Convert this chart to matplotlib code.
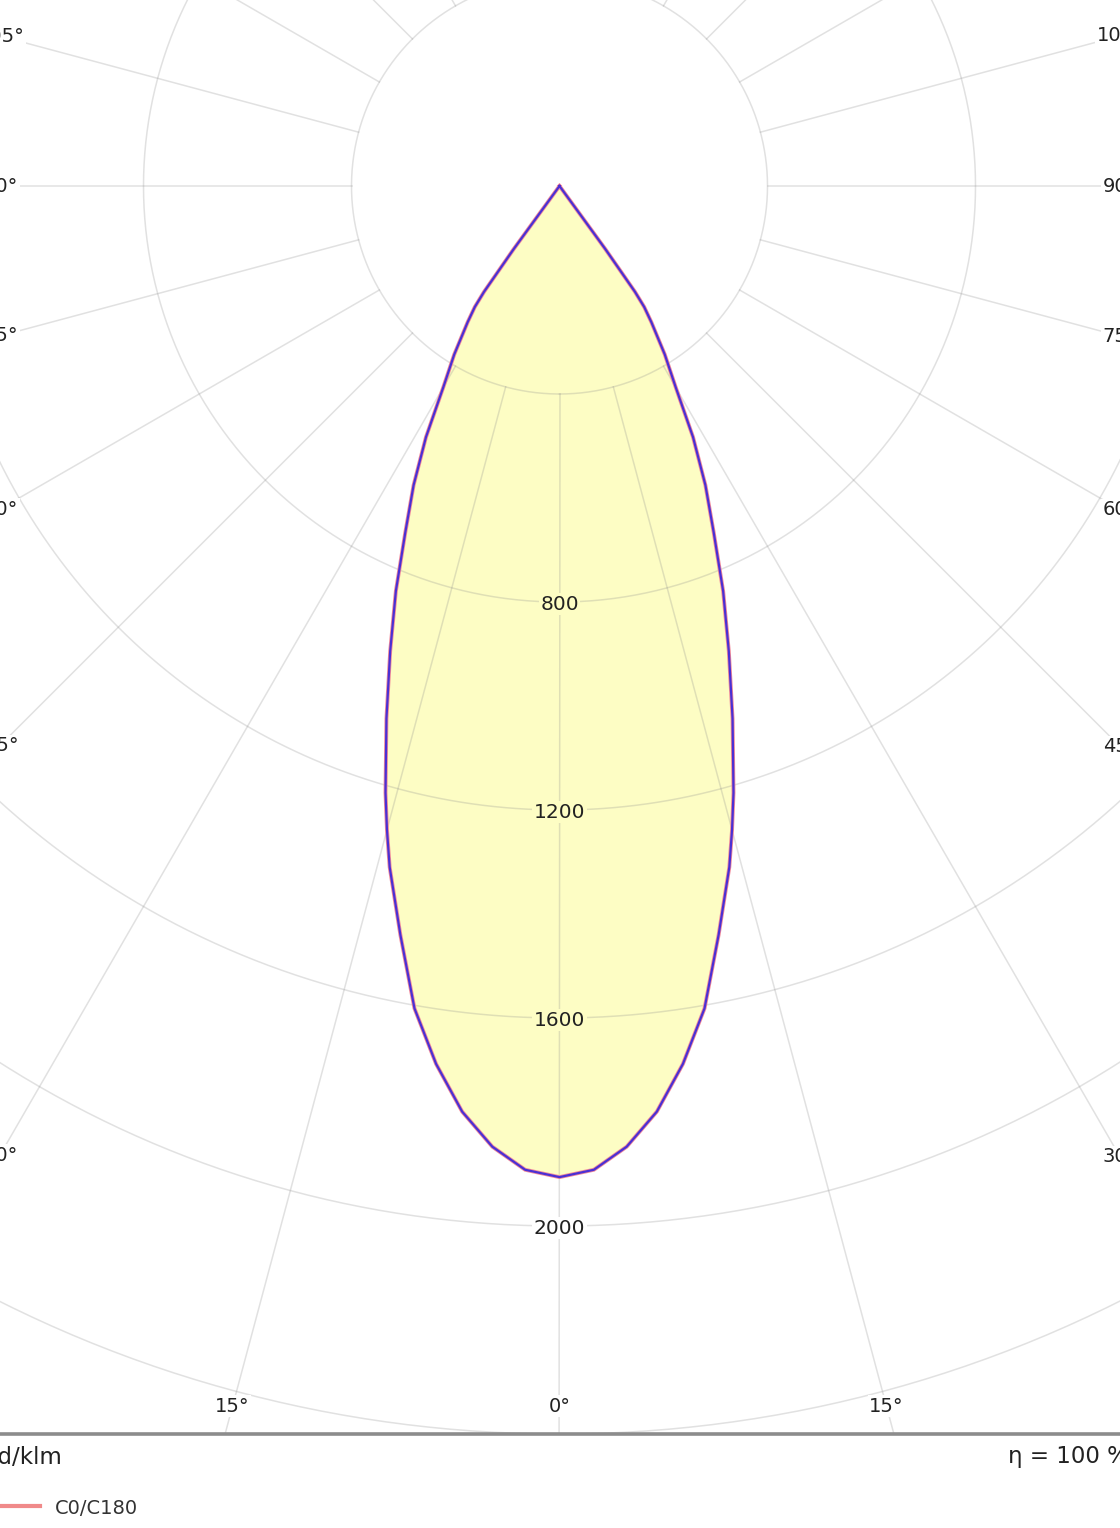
import numpy as np
import matplotlib
matplotlib.use("Agg")
import matplotlib.pyplot as plt
from matplotlib.patches import Rectangle
from matplotlib.lines import Line2D

# luminous intensity (cd/klm), symmetric curve, gamma measured from nadir
gamma_deg = [0, 2, 4, 6, 8, 10, 12, 14, 15, 16, 18, 20, 22, 24, 26, 28, 30, 32, 34, 35, 35.5, 36, 36.5]
intensity = [1906, 1893, 1852, 1790, 1705, 1606, 1472, 1350, 1282, 1214, 1077, 952, 840, 729, 640,
             547, 447, 382, 316, 284, 250, 150, 0]

ring_values = [400, 800, 1200, 1600, 2000, 2400]
ring_labels = ["800", "1200", "1600", "2000"]
side_angles = [30, 45, 60, 75, 90, 105]
bottom_angles = [-15, 0, 15]
legend_label = "C0/C180"
unit_label = "cd/klm"
eff_label = "η = 100 %"

W, H = 1120, 1528
cx, cy = 559.5, 186.0       # pole position in pixels (from top-left)
px_per_cd = 0.52
rmax = 2700
frame_y = 1434

fig = plt.figure(figsize=(W / 100, H / 100), dpi=100)
rad_px = rmax * px_per_cd
ax = fig.add_axes([(cx - rad_px) / W, (H - cy - rad_px) / H, 2 * rad_px / W, 2 * rad_px / H],
                  projection="polar")
ax.set_theta_zero_location("S")
ax.set_ylim(0, rmax)
ax.grid(False)
ax.set_xticks([])
ax.set_yticks([])
ax.spines["polar"].set_visible(False)
ax.patch.set_alpha(0)

# curve
g = np.array(gamma_deg)
i = np.array(intensity)
theta = np.radians(np.concatenate([-g[::-1], g[1:]]))
r = np.concatenate([i[::-1], i[1:]])
ax.fill(theta, r, color="#fdfdc4", zorder=1, lw=0)

# grid on top of the fill
grid_col = (0.55, 0.55, 0.55, 0.26)
tt = np.linspace(0, 2 * np.pi, 721)
for rv in ring_values:
    ax.plot(tt, np.full_like(tt, rv), color=grid_col, lw=1.1, zorder=2)
for a in range(0, 360, 15):
    ax.plot([np.radians(a)] * 2, [400, rmax], color=grid_col, lw=1.1, zorder=2)

ax.plot(theta, r, color="#f08a9a", lw=2.8, zorder=3, solid_joinstyle="round")
ax.plot(theta, r, color="#4a30d4", lw=1.6, zorder=4, solid_joinstyle="round")

for lab in ring_labels:
    v = float(lab)
    fc = "#fdfdc4" if v < max(intensity) else "white"
    ax.text(0, v + 4, lab, ha="center", va="center", fontsize=14.5, color="#222222", zorder=5,
            bbox=dict(facecolor=fc, edgecolor="none", pad=1.0))

# white area under the frame
fig.patches.append(Rectangle((0, 0), 1, (H - frame_y) / H, transform=fig.transFigure,
                             facecolor="white", edgecolor="none", zorder=10))
fig.lines.append(Line2D([0, 1], [(H - frame_y) / H] * 2, transform=fig.transFigure,
                        color="#8c8c8c", lw=2.6, zorder=11))

lab_kw = dict(fontsize=14, color="#222222", va="center", ha="center", zorder=12,
              bbox=dict(facecolor="white", edgecolor="none", pad=1.0))
for a in side_angles:
    dy = cx / np.tan(np.radians(a))
    fig.text(1 / W, 1 - (cy + dy) / H, "%d°" % a, **lab_kw)
    fig.text(1.0, 1 - (cy + (W - cx) / np.tan(np.radians(a))) / H, "%d°" % a, **lab_kw)
label_y = 1406
for a in bottom_angles:
    x = cx + (label_y - cy) * np.tan(np.radians(a))
    fig.text(x / W, 1 - label_y / H, "%d°" % abs(a), **lab_kw)

fig.text(63 / W, 1 - 1457 / H, unit_label, ha="right", va="center", fontsize=16.5,
         color="#222222", zorder=12)
fig.text(1008 / W, 1 - 1457 / H, eff_label, ha="left", va="center", fontsize=16.5,
         color="#222222", zorder=12)
fig.lines.append(Line2D([0, 40 / W], [1 - 1506 / H] * 2, transform=fig.transFigure,
                        color="#f08a8a", lw=3, zorder=12))
fig.text(55 / W, 1 - 1508 / H, legend_label, ha="left", va="center", fontsize=14,
         color="#333333", zorder=12)

fig.savefig("out.png", dpi=100)
